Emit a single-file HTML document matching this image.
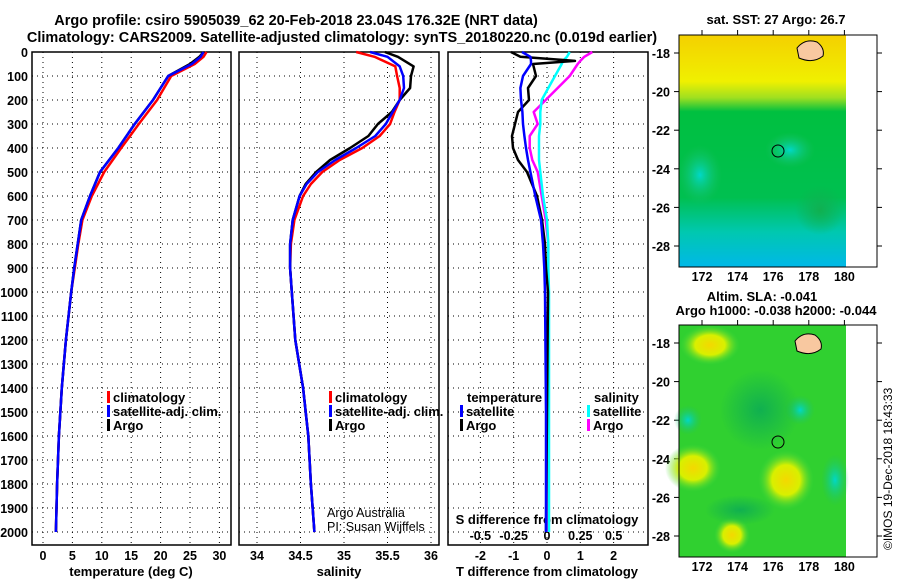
<!DOCTYPE html>
<html><head><meta charset="utf-8"><style>
body{margin:0;background:#fff;}
svg{display:block;font-family:"Liberation Sans",sans-serif;}
.b{font-weight:bold;font-size:13px;}
.h{font-weight:bold;font-size:14.5px;}
.t{font-weight:bold;font-size:12.5px;}
.n{font-size:12.5px;}
</style></head><body>
<svg id="c" width="900" height="580">
<defs>
<radialGradient id="gy"><stop offset="0" stop-color="#f4d800"/><stop offset="0.5" stop-color="#d8f000"/><stop offset="1" stop-color="#40d840" stop-opacity="0"/></radialGradient>
<radialGradient id="gc"><stop offset="0" stop-color="#00d8c8"/><stop offset="1" stop-color="#20c060" stop-opacity="0"/></radialGradient>
<radialGradient id="gd"><stop offset="0" stop-color="#10b050"/><stop offset="1" stop-color="#10b050" stop-opacity="0"/></radialGradient>
<linearGradient id="sst" x1="0" y1="0" x2="0" y2="1">
<stop offset="0" stop-color="#f4d000"/><stop offset="0.2" stop-color="#f0f000"/><stop offset="0.27" stop-color="#a0e020"/><stop offset="0.33" stop-color="#00c040"/><stop offset="0.7" stop-color="#00c050"/><stop offset="0.85" stop-color="#00c8b0"/><stop offset="1" stop-color="#00b8e8"/></linearGradient>
</defs>
<g id="titles">
<text class="h" x="296" y="25" text-anchor="middle">Argo profile: csiro 5905039_62 20-Feb-2018 23.04S 176.32E (NRT data)</text>
<text class="h" x="342" y="42" text-anchor="middle">Climatology: CARS2009. Satellite-adjusted climatology: synTS_20180220.nc (0.019d earlier)</text>
</g>
<g id="g"></g>
<g>
<text class="b" x="776" y="24" text-anchor="middle">sat. SST: 27 Argo: 26.7</text>
<rect x="679" y="35" width="167" height="232" fill="url(#sst)"/>
<ellipse cx="700" cy="175" rx="22" ry="30" fill="url(#gc)"/>
<ellipse cx="790" cy="150" rx="25" ry="18" fill="url(#gc)"/>
<ellipse cx="820" cy="210" rx="25" ry="25" fill="url(#gd)"/>
<rect x="679" y="35" width="198" height="232" fill="none" stroke="#000"/>
<path d="M797 48 q8 -10 20 -6 q8 6 6 14 q-10 8 -24 2 z" fill="#f8c8a0" stroke="#000"/>
<circle cx="778" cy="151" r="6" fill="none" stroke="#000"/>
</g>
<g>
<text class="b" x="762" y="301" text-anchor="middle">Altim. SLA: -0.041</text>
<text class="b" x="776" y="315" text-anchor="middle">Argo h1000: -0.038 h2000: -0.044</text>
<rect x="679" y="325" width="167" height="232" fill="#30d030"/>
<ellipse cx="710" cy="345" rx="30" ry="20" fill="url(#gy)"/>
<ellipse cx="693" cy="468" rx="28" ry="24" fill="url(#gy)"/>
<ellipse cx="786" cy="480" rx="28" ry="30" fill="url(#gy)"/>
<ellipse cx="732" cy="535" rx="18" ry="18" fill="url(#gy)"/>
<ellipse cx="835" cy="480" rx="14" ry="26" fill="url(#gc)"/>
<ellipse cx="800" cy="410" rx="15" ry="15" fill="url(#gc)"/>
<ellipse cx="688" cy="420" rx="14" ry="15" fill="url(#gc)"/>
<ellipse cx="760" cy="410" rx="40" ry="40" fill="url(#gd)"/>
<ellipse cx="740" cy="510" rx="35" ry="15" fill="url(#gd)"/>
<rect x="679" y="325" width="198" height="232" fill="none" stroke="#000"/>
<path d="M795 341 q8 -10 20 -6 q8 6 6 14 q-10 8 -24 2 z" fill="#f8c8a0" stroke="#000"/>
<circle cx="778" cy="442" r="6" fill="none" stroke="#000"/>
</g>
<text x="892" y="550" font-size="12" transform="rotate(-90 892 550)">©IMOS 19-Dec-2018 18:43:33</text>
</svg>
<script>
// ---- data ----
const depths = [0,20,50,100,200,300,400,500,600,700,800,900,1000,1200,1400,1600,1800,2000];
const tempArgo = [27.3,26.6,25.0,21.3,18.7,15.6,12.8,9.7,8.0,6.5,5.9,5.3,4.8,3.9,3.2,2.7,2.4,2.2];
const tempSat  = [27.3,26.8,25.3,21.3,18.7,15.6,12.8,9.7,8.0,6.5,5.9,5.3,4.8,3.9,3.2,2.7,2.4,2.2];
const tempClim = [27.8,27.3,25.8,21.8,19.4,16.3,13.3,10.4,8.3,6.7,6.0,5.4,4.8,3.9,3.2,2.7,2.4,2.2];
const salDepths = [0,20,60,100,150,200,250,300,350,400,450,500,550,600,700,800,900,1000,1200,1400,1600,1800,2000];
const salArgo = [35.47,35.62,35.80,35.77,35.76,35.64,35.55,35.39,35.28,35.07,34.84,34.68,34.56,34.49,34.41,34.38,34.38,34.40,34.44,34.53,34.59,34.62,34.66];
const salSat  = [35.30,35.50,35.64,35.68,35.69,35.64,35.56,35.48,35.36,35.14,34.90,34.70,34.57,34.49,34.41,34.38,34.38,34.40,34.44,34.53,34.59,34.62,34.66];
const salClim = [35.14,35.35,35.59,35.61,35.64,35.64,35.58,35.53,35.41,35.21,34.95,34.75,34.62,34.53,34.43,34.39,34.38,34.40,34.44,34.53,34.59,34.62,34.66];
const diffDepths = [0,20,37,50,100,150,200,250,300,350,400,450,500,600,700,800,900,1000,1500,2000];
const dTArgo = [-1.08,-0.8,0.84,-0.42,-0.33,-0.57,-0.54,-0.87,-0.96,-1.05,-1.02,-0.87,-0.6,-0.3,-0.15,-0.06,-0.03,0.03,0,-0.03];
const dTSat  = [-0.75,-0.5,-0.48,-0.48,-0.72,-0.8,-0.78,-0.74,-0.72,-0.68,-0.63,-0.57,-0.5,-0.35,-0.18,-0.12,-0.08,-0.06,-0.03,-0.03];
const dSArgo = [0.34,0.28,0.25,0.23,0.17,0.08,-0.01,-0.10,-0.07,-0.13,-0.13,-0.11,-0.07,-0.04,-0.01,0.01,0.01,0.01,0,0];
const dSSat  = [0.17,0.15,0.12,0.11,0.06,0.01,-0.04,-0.05,-0.05,-0.06,-0.06,-0.06,-0.05,-0.03,0,0.01,0.01,0.015,0.015,0.015];
const depthTicks = [0,100,200,300,400,500,600,700,800,900,1000,1100,1200,1300,1400,1500,1600,1700,1800,1900,2000];
const tempTicks = [0,5,10,15,20,25,30];
const salTicks = [34,34.5,35,35.5,36];
const dTTicks = [-2,-1,0,1,2];
const dSTicks = [-0.5,-0.25,0,0.25,0.5];
const dSTickLabels = ["-0.5","-0.25","0","0.25","0.5"];
const latTicks = [-18,-20,-22,-24,-26,-28];
const lonTicks = [172,174,176,178,180];

// ---- axes ----
const yD = d => 52 + d*0.24;
const xT = t => 43 + t*5.88;
const xS = s => 257 + (s-34)*87;
const xDT = t => 547 + t*33.3;
const xDS = s => 547 + s*133.3;
const latTop = l => 53 + (-18 - l)*19.3;
const latBot = l => 343 + (-18 - l)*19.3;
const lonX = l => 702 + (l-172)*17.8;

const NS='http://www.w3.org/2000/svg';
const g=document.getElementById('g');
function el(tag,attrs,parent){const e=document.createElementNS(NS,tag);for(const k in attrs)e.setAttribute(k,attrs[k]);(parent||g).appendChild(e);return e;}
function txt(x,y,s,cls,anchor){const e=el('text',{x:x,y:y,class:cls||'t','text-anchor':anchor||'middle'});e.textContent=s;return e;}

const panels=[{x0:32,x1:231,name:'temperature'},{x0:239,x1:439,name:'salinity'},{x0:448,x1:648,name:'difference'}];
panels.forEach(p=>{
  const f=el('rect',{x:p.x0,y:52,width:p.x1-p.x0,height:493,fill:'none',stroke:'#000','stroke-width':1.5});
  
  
  depthTicks.forEach(d=>{
    if(d===0)return;
    const l=el('line',{x1:p.x0,x2:p.x1,y1:yD(d),y2:yD(d),stroke:'#000','stroke-dasharray':'1 4'});
    
    
  });
});
depthTicks.forEach(d=>{
  const t=txt(28,yD(d)+5,String(d),'t','end');
  
  
});
function vgrid(ticks,fx,labels,ly){
  ticks.forEach((v,i)=>{
    const l=el('line',{x1:fx(v),x2:fx(v),y1:52,y2:545,stroke:'#000','stroke-dasharray':'1 4'});
    
    
    if(labels){const t=txt(fx(v),ly,labels[i]);
    
    }
  });
}
vgrid(tempTicks,xT,tempTicks.map(String),560);
vgrid(salTicks,xS,salTicks.map(String),560);
vgrid(dTTicks,xDT,dTTicks.map(String),560);
dSTicks.forEach((v,i)=>{const t=txt(xDS(v),540,dSTickLabels[i]);
  
  });
[[131,'temperature (deg C)'],[339,'salinity'],[547,'T difference from climatology']].forEach(a=>{
  const t=txt(a[0],576,a[1],'b');
  
  
});
const st=txt(547,524,'S difference from climatology','b');



function line(ds,vals,fx,color,name){
  const pts=vals.map((v,i)=>fx(v).toFixed(1)+','+yD(ds[i]).toFixed(1)).join(' ');
  const pl=el('polyline',{points:pts,fill:'none',stroke:color,'stroke-width':2.5,'stroke-linejoin':'round'});
  
  
}
line(depths,tempClim,xT,'#ff0000','temperature-climatology-line');
line(depths,tempArgo,xT,'#000','temperature-argo-line');
line(depths,tempSat,xT,'#0000ff','temperature-satellite-line');
line(salDepths,salClim,xS,'#ff0000','salinity-climatology-line');
line(salDepths,salArgo,xS,'#000','salinity-argo-line');
line(salDepths,salSat,xS,'#0000ff','salinity-satellite-line');
line(diffDepths,dSArgo,xDS,'#ff00ff','s-diff-argo-line');
line(diffDepths,dSSat,xDS,'#00ffff','s-diff-satellite-line');
line(diffDepths,dTArgo,xDT,'#000','t-diff-argo-line');
line(diffDepths,dTSat,xDT,'#0000ff','t-diff-satellite-line');

function leg(x,y,color,label){
  const r=el('rect',{x:x,y:y-11,width:3,height:12,fill:color});
  
  
  const t=txt(x+6,y,label,'b','start');
  
  
}
leg(107,402,'#ff0000','climatology');leg(107,416,'#0000ff','satellite-adj. clim.');leg(107,430,'#000','Argo');
leg(329,402,'#ff0000','climatology');leg(329,416,'#0000ff','satellite-adj. clim.');leg(329,430,'#000','Argo');
const lt=txt(467,402,'temperature','b','start');


const ls=txt(594,402,'salinity','b','start');


leg(460,416,'#0000ff','satellite');leg(460,430,'#000','Argo');
leg(587,416,'#00ffff','satellite');leg(587,430,'#ff00ff','Argo');
const a1=txt(327,517,'Argo Australia','n','start');


const a2=txt(327,531,'PI: Susan Wijffels','n','start');



[[latTop,35,267],[latBot,325,557]].forEach(m=>{
  latTicks.forEach(l=>{
    const y=m[0](l);
    el('line',{x1:674,x2:679,y1:y,y2:y,stroke:'#000'});
    el('line',{x1:877,x2:882,y1:y,y2:y,stroke:'#000'});
    const t=txt(670,y+5,String(l),'t','end');
    
    
  });
  lonTicks.forEach(l=>{
    el('line',{x1:lonX(l),x2:lonX(l),y1:m[1]-5,y2:m[1],stroke:'#000'});
    const t=txt(lonX(l),m[2]+14,String(l));
    
    
  });
});
</script>
</body></html>
